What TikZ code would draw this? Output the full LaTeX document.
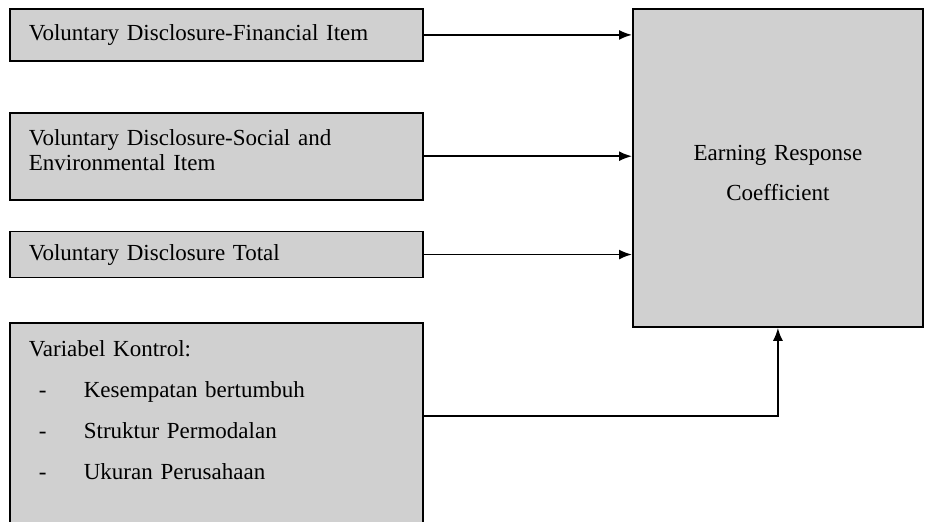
\documentclass[tikz,border=0pt]{standalone}
\usepackage{fontspec}
\setmainfont{Liberation Serif}
\usetikzlibrary{positioning,arrows.meta}
\definecolor{boxgray}{RGB}{208,208,208}
\tikzstyle{varbox}  = [rectangle, minimum width=206.5pt, text width=187.5pt, inner xsep=9.5pt, inner ysep=0pt, align=left, draw=black, fill=boxgray, line width=0.9pt, font=\fontsize{11.5}{12.5}\selectfont]
\tikzstyle{outcome} = [rectangle, minimum width=145pt, minimum height=159pt, text width=130pt, align=center, draw=black, fill=boxgray, line width=0.9pt, font=\fontsize{11.5}{20}\selectfont]
\tikzstyle{arrow}   = [line width=0.9pt, -{Latex[length=6.5pt,width=5pt]}]

\begin{document}
\begin{tikzpicture}
        \useasboundingbox (0,0) rectangle (464.5pt,-260.5pt);
        \clip (0,0) rectangle (464.5pt,-260.5pt);
        \node (fin) [varbox, minimum height=26pt, anchor=north west] at (4.5pt,-4pt) {Voluntary Disclosure-Financial Item};
        \node (soc) [varbox, text height=16.5pt, text depth=27pt, below=25pt of fin.south west, anchor=north west] {Voluntary Disclosure-Social and\\Environmental Item};
        \node (tot) [varbox, minimum height=23pt, below=15pt of soc.south west, anchor=north west] {Voluntary Disclosure Total};
        \node (ctrl) [varbox, text height=16.5pt, text depth=91pt, font=\fontsize{11.5}{20.5}\selectfont, below=22pt of tot.south west, anchor=north west] {Variabel Kontrol:\\
                \hspace*{5pt}\makebox[22.5pt][l]{-}Kesempatan bertumbuh\\
                \hspace*{5pt}\makebox[22.5pt][l]{-}Struktur Permodalan\\
                \hspace*{5pt}\makebox[22.5pt][l]{-}Ukuran Perusahaan};
        \node (erc) [outcome, text height=13pt, anchor=north west] at (316pt,-4pt) {Earning Response\\Coefficient};
        \coordinate (bend) at (0,-208pt);

        \draw [arrow] (fin) -- (fin -| erc.west);
        \draw [arrow] (soc) -- (soc -| erc.west);
        \draw [arrow] (tot) -- (tot -| erc.west);
        \draw [arrow] (bend -| ctrl.east) -| (erc.south);
    \end{tikzpicture}
\end{document}
